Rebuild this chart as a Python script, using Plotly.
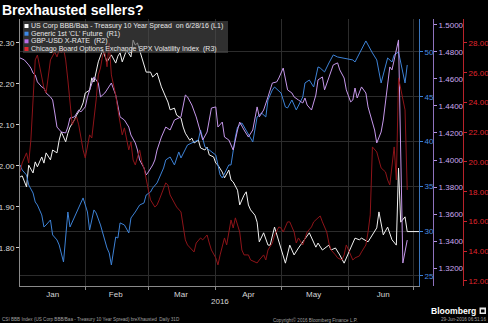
import plotly.graph_objects as go

# ---------------- data ----------------
# US Corp BBB/Baa - Treasury 10 Year Spread (L1)
spread_dates = [
    "2016-01-02", "2016-01-03", "2016-01-05", "2016-01-06", "2016-01-08", "2016-01-09", "2016-01-10", "2016-01-12",
    "2016-01-13", "2016-01-14", "2016-01-16", "2016-01-17", "2016-01-19", "2016-01-20", "2016-01-21", "2016-01-23",
    "2016-01-24", "2016-01-25", "2016-01-27", "2016-01-28", "2016-01-30", "2016-01-31",
    "2016-02-01", "2016-02-03", "2016-02-04", "2016-02-05", "2016-02-07", "2016-02-08", "2016-02-09", "2016-02-11",
    "2016-02-12", "2016-02-13", "2016-02-15", "2016-02-16", "2016-02-17", "2016-02-18", "2016-02-20", "2016-02-22",
    "2016-02-23", "2016-02-24", "2016-02-25", "2016-02-27", "2016-02-28", "2016-02-29",
    "2016-03-02", "2016-03-03", "2016-03-05", "2016-03-06", "2016-03-07", "2016-03-09", "2016-03-10", "2016-03-11",
    "2016-03-13", "2016-03-14", "2016-03-16", "2016-03-17", "2016-03-18", "2016-03-20", "2016-03-21", "2016-03-22",
    "2016-03-24", "2016-03-25", "2016-03-27", "2016-03-28", "2016-03-29", "2016-03-31",
    "2016-04-01", "2016-04-02", "2016-04-04", "2016-04-05", "2016-04-07", "2016-04-08", "2016-04-09", "2016-04-11",
    "2016-04-12", "2016-04-14", "2016-04-15", "2016-04-16", "2016-04-17", "2016-04-19", "2016-04-20", "2016-04-21",
    "2016-04-23", "2016-04-25", "2016-04-26", "2016-04-28", "2016-04-30",
    "2016-05-01", "2016-05-03", "2016-05-05", "2016-05-07", "2016-05-09", "2016-05-11", "2016-05-13", "2016-05-14",
    "2016-05-17", "2016-05-18", "2016-05-20", "2016-05-23", "2016-05-24", "2016-05-26", "2016-05-28", "2016-05-30",
    "2016-06-02", "2016-06-04", "2016-06-06", "2016-06-07", "2016-06-10", "2016-06-12", "2016-06-14", "2016-06-15",
    "2016-06-17", "2016-06-19", "2016-06-21", "2016-06-23", "2016-06-24", "2016-06-25", "2016-06-27", "2016-06-28",
]
spread_vals = [
    1.973, 1.976, 1.949, 2.002, 1.983, 2.010, 1.998, 2.022, 2.007, 2.032, 2.015, 2.039, 2.032, 2.063, 2.083, 2.059,
    2.080, 2.095, 2.112, 2.124, 2.141, 2.154,
    2.178, 2.185, 2.215, 2.205, 2.254, 2.271, 2.283, 2.254, 2.263, 2.271, 2.251, 2.268, 2.276, 2.254, 2.283, 2.266,
    2.307, 2.295, 2.300, 2.266, 2.251, 2.229,
    2.229, 2.217, 2.227, 2.210, 2.193, 2.168, 2.156, 2.137, 2.141, 2.124, 2.117, 2.095, 2.080, 2.063, 2.068, 2.056,
    2.063, 2.044, 2.039, 2.046, 2.027, 2.022,
    2.007, 2.002, 1.985, 1.971, 1.990, 1.966, 1.961, 1.941, 1.905, 1.929, 1.937, 1.905, 1.893, 1.880, 1.863, 1.815,
    1.837, 1.807, 1.807, 1.851, 1.815,
    1.800, 1.763, 1.807, 1.783, 1.800, 1.815, 1.827, 1.837, 1.802, 1.812, 1.795, 1.807, 1.795, 1.800, 1.783, 1.763,
    1.800, 1.824, 1.820, 1.824, 1.815, 1.832, 1.849, 1.888, 1.832, 1.851, 1.820, 1.807, 1.995, 1.863, 1.876, 1.840,
]

# Generic 1st 'CL' Future (R1)
oil_dates = [
    "2016-01-02", "2016-01-03", "2016-01-05", "2016-01-06", "2016-01-08", "2016-01-09", "2016-01-10", "2016-01-12",
    "2016-01-13", "2016-01-14", "2016-01-16", "2016-01-17", "2016-01-19", "2016-01-20", "2016-01-22", "2016-01-23",
    "2016-01-24", "2016-01-25", "2016-01-28", "2016-01-30", "2016-01-31",
    "2016-02-02", "2016-02-03", "2016-02-05", "2016-02-06", "2016-02-08", "2016-02-09", "2016-02-11", "2016-02-12",
    "2016-02-13", "2016-02-15", "2016-02-16", "2016-02-17", "2016-02-19", "2016-02-21", "2016-02-22", "2016-02-24",
    "2016-02-26", "2016-02-28", "2016-02-29",
    "2016-03-02", "2016-03-03", "2016-03-05", "2016-03-06", "2016-03-08", "2016-03-09", "2016-03-11", "2016-03-13",
    "2016-03-15", "2016-03-16", "2016-03-19", "2016-03-22", "2016-03-24", "2016-03-25", "2016-03-27", "2016-03-29",
    "2016-04-01", "2016-04-03", "2016-04-04", "2016-04-07", "2016-04-08", "2016-04-10", "2016-04-11", "2016-04-13",
    "2016-04-15", "2016-04-18", "2016-04-20", "2016-04-22", "2016-04-24", "2016-04-25", "2016-04-27", "2016-04-28",
    "2016-05-01", "2016-05-03", "2016-05-04", "2016-05-06", "2016-05-08", "2016-05-11", "2016-05-12", "2016-05-14",
    "2016-05-16", "2016-05-18", "2016-05-19", "2016-05-21", "2016-05-23", "2016-05-25", "2016-05-27", "2016-05-30",
    "2016-06-03", "2016-06-04", "2016-06-06", "2016-06-09", "2016-06-12", "2016-06-14", "2016-06-16", "2016-06-19",
    "2016-06-21", "2016-06-22", "2016-06-24", "2016-06-27", "2016-06-28",
]
oil_vals = [
    37.39, 36.83, 36.27, 35.16, 34.26, 33.26, 32.92, 31.81, 30.47, 30.69, 31.25, 29.58, 29.02, 28.46, 26.56, 29.91,
    32.14, 30.47, 32.14, 33.26, 33.71,
    32.14, 30.13, 32.37, 32.03, 30.69, 29.80, 28.12, 27.57, 26.23, 29.35, 29.24, 30.92, 30.69, 29.80, 31.47, 32.14,
    32.92, 33.15, 34.04,
    34.37, 34.82, 35.38, 35.94, 37.05, 37.95, 38.28, 37.39, 38.84, 38.17, 39.62, 39.96, 40.18, 41.29, 39.40, 39.06,
    38.50, 36.27, 35.94, 37.39, 37.39, 40.51, 41.63, 42.08, 41.29, 39.96, 42.75, 43.19, 42.75, 44.64, 45.76, 46.09,
    45.42, 43.86, 43.75, 44.64, 43.53, 44.98, 46.54, 46.87, 46.09, 48.33, 48.21, 47.77, 48.77, 49.67, 49.44, 49.33,
    49.11, 48.88, 49.89, 51.23, 49.89, 49.11, 46.54, 49.33, 48.88, 49.67, 50.00, 46.54, 48.55,
]

# GBP-USD X-RATE (R2)
gbp_dates = [
    "2016-01-02", "2016-01-04", "2016-01-06", "2016-01-07", "2016-01-08", "2016-01-09", "2016-01-10", "2016-01-12",
    "2016-01-13", "2016-01-14", "2016-01-16", "2016-01-17", "2016-01-18", "2016-01-19", "2016-01-21", "2016-01-23",
    "2016-01-24", "2016-01-25", "2016-01-27", "2016-01-29", "2016-01-30",
    "2016-02-01", "2016-02-02", "2016-02-04", "2016-02-05", "2016-02-07", "2016-02-08", "2016-02-10", "2016-02-11",
    "2016-02-13", "2016-02-15", "2016-02-16", "2016-02-17", "2016-02-19", "2016-02-21", "2016-02-22", "2016-02-24",
    "2016-02-25", "2016-02-26", "2016-02-28", "2016-02-29",
    "2016-03-01", "2016-03-03", "2016-03-04", "2016-03-05", "2016-03-07", "2016-03-09", "2016-03-11", "2016-03-13",
    "2016-03-16", "2016-03-18", "2016-03-19", "2016-03-21", "2016-03-23", "2016-03-25", "2016-03-26", "2016-03-28",
    "2016-03-30",
    "2016-04-01", "2016-04-02", "2016-04-04", "2016-04-05", "2016-04-07", "2016-04-09", "2016-04-11", "2016-04-12",
    "2016-04-14", "2016-04-16", "2016-04-18", "2016-04-20", "2016-04-21", "2016-04-23", "2016-04-25", "2016-04-27",
    "2016-04-29", "2016-04-30",
    "2016-05-02", "2016-05-03", "2016-05-04", "2016-05-06", "2016-05-07", "2016-05-09", "2016-05-11", "2016-05-12",
    "2016-05-13", "2016-05-15", "2016-05-17", "2016-05-18", "2016-05-20", "2016-05-21", "2016-05-23", "2016-05-25",
    "2016-05-27", "2016-05-28", "2016-05-30", "2016-05-31",
    "2016-06-02", "2016-06-03", "2016-06-04", "2016-06-05", "2016-06-07", "2016-06-09", "2016-06-10", "2016-06-12",
    "2016-06-13", "2016-06-14", "2016-06-16", "2016-06-17", "2016-06-19", "2016-06-20", "2016-06-21", "2016-06-22",
    "2016-06-24", "2016-06-26", "2016-06-27", "2016-06-28",
]
gbp_vals = [
    1.4756, 1.4741, 1.4704, 1.4681, 1.4644, 1.4630, 1.4578, 1.4541, 1.4533, 1.4496, 1.4467, 1.4444, 1.4348, 1.4244,
    1.4207, 1.4200, 1.4244, 1.4311, 1.4319, 1.4370, 1.4356,
    1.4393, 1.4467, 1.4570, 1.4615, 1.4570, 1.4467, 1.4496, 1.4519, 1.4570, 1.4481, 1.4407, 1.4319, 1.4296, 1.4244,
    1.4185, 1.4126, 1.4074, 1.4000, 1.3941, 1.3889,
    1.3911, 1.3963, 1.4000, 1.4074, 1.4170, 1.4244, 1.4222, 1.4296, 1.4319, 1.4481, 1.4467, 1.4407, 1.4319, 1.4200,
    1.4148, 1.4207, 1.4385,
    1.4393, 1.4244, 1.4281, 1.4170, 1.4148, 1.4074, 1.4222, 1.4281, 1.4222, 1.4170, 1.4222, 1.4393, 1.4319, 1.4370,
    1.4467, 1.4570, 1.4578, 1.4607,
    1.4681, 1.4593, 1.4519, 1.4496, 1.4467, 1.4444, 1.4422, 1.4459, 1.4407, 1.4370, 1.4481, 1.4593, 1.4615, 1.4519,
    1.4607, 1.4704, 1.4719, 1.4667, 1.4607, 1.4519,
    1.4430, 1.4444, 1.4533, 1.4459, 1.4541, 1.4496, 1.4393, 1.4274, 1.4222, 1.4126, 1.4207, 1.4296, 1.4541, 1.4689,
    1.4667, 1.4741, 1.4889, 1.3237, 1.3333, 1.3407,
]

# Chicago Board Options Exchange SPX Volatility Index (R3)
vix_dates = [
    "2016-01-02", "2016-01-03", "2016-01-05", "2016-01-06", "2016-01-07", "2016-01-08", "2016-01-09", "2016-01-10",
    "2016-01-11", "2016-01-12", "2016-01-13", "2016-01-14", "2016-01-15", "2016-01-16", "2016-01-18", "2016-01-19",
    "2016-01-20", "2016-01-21", "2016-01-22", "2016-01-23", "2016-01-24", "2016-01-25", "2016-01-26", "2016-01-27",
    "2016-01-28", "2016-01-29", "2016-01-30", "2016-01-31",
    "2016-02-01", "2016-02-02", "2016-02-03", "2016-02-04", "2016-02-05", "2016-02-06", "2016-02-07", "2016-02-08",
    "2016-02-09", "2016-02-10", "2016-02-11", "2016-02-12", "2016-02-13", "2016-02-14", "2016-02-15", "2016-02-16",
    "2016-02-17", "2016-02-18", "2016-02-19", "2016-02-21", "2016-02-22", "2016-02-23", "2016-02-24", "2016-02-26",
    "2016-02-27", "2016-02-28",
    "2016-03-01", "2016-03-02", "2016-03-04", "2016-03-05", "2016-03-06", "2016-03-08", "2016-03-09", "2016-03-10",
    "2016-03-11", "2016-03-13", "2016-03-14", "2016-03-16", "2016-03-17", "2016-03-18", "2016-03-19", "2016-03-21",
    "2016-03-22", "2016-03-23", "2016-03-25", "2016-03-26", "2016-03-28", "2016-03-29", "2016-03-30",
    "2016-04-01", "2016-04-02", "2016-04-03", "2016-04-05", "2016-04-06", "2016-04-08", "2016-04-09", "2016-04-10",
    "2016-04-12", "2016-04-13", "2016-04-14", "2016-04-16", "2016-04-17", "2016-04-19", "2016-04-20", "2016-04-21",
    "2016-04-23", "2016-04-24", "2016-04-25", "2016-04-27", "2016-04-28", "2016-04-30",
    "2016-05-01", "2016-05-02", "2016-05-04", "2016-05-05", "2016-05-07", "2016-05-08", "2016-05-09", "2016-05-11",
    "2016-05-12", "2016-05-13", "2016-05-15", "2016-05-16", "2016-05-18", "2016-05-19", "2016-05-20", "2016-05-22",
    "2016-05-23", "2016-05-24", "2016-05-26", "2016-05-27", "2016-05-29", "2016-05-30", "2016-05-31",
    "2016-06-02", "2016-06-03", "2016-06-04", "2016-06-06", "2016-06-07", "2016-06-09", "2016-06-10", "2016-06-11",
    "2016-06-12", "2016-06-14", "2016-06-15", "2016-06-16", "2016-06-18", "2016-06-19", "2016-06-20", "2016-06-22",
    "2016-06-23", "2016-06-24", "2016-06-27", "2016-06-28",
]
vix_vals = [
    19.33, 19.93, 20.61, 19.93, 21.48, 24.17, 26.86, 27.19, 26.39, 25.51, 24.97, 24.64, 25.65, 26.86, 27.39, 27.06,
    27.53, 27.33, 27.66, 26.86, 25.51, 23.83, 22.49, 22.82, 23.03, 22.49, 21.48, 20.81,
    20.27, 20.94, 21.82, 21.61, 22.82, 24.17, 25.85, 26.32, 27.19, 27.40, 26.40, 28.00, 25.85, 25.18, 24.50, 23.50,
    22.69, 21.82, 22.29, 20.81, 21.34, 20.13, 19.80, 20.81, 20.00, 19.60,
    18.12, 17.45, 16.97, 17.11, 17.45, 18.25, 18.59, 18.45, 17.78, 17.24, 16.97, 16.64, 15.56, 14.76, 14.42, 14.08,
    13.95, 14.55, 14.89, 14.76, 15.09, 14.55, 14.08,
    13.55, 13.08, 13.75, 14.89, 14.42, 16.10, 15.56, 16.24, 15.29, 14.08, 13.75, 13.75, 13.41, 13.28, 13.21, 13.41,
    13.75, 13.41, 14.08, 14.55, 15.09, 15.63,
    15.56, 15.29, 15.97, 15.97, 15.29, 14.55, 14.89, 14.42, 14.89, 15.29, 15.63, 15.97, 16.24, 16.37, 15.97, 15.29,
    14.55, 14.08, 13.75, 13.55, 13.41, 13.75, 14.42,
    13.75, 13.41, 13.55, 13.68, 13.95, 14.42, 15.29, 16.44, 21.01, 20.67, 20.13, 19.60, 19.33, 18.79, 18.45, 21.01,
    18.79, 25.65, 23.50, 18.12,
]

month_labels = ["Jan", "Feb", "Mar", "Apr", "May", "Jun"]
month_label_dates = ["2016-01-17", "2016-02-15", "2016-03-16", "2016-04-16", "2016-05-16", "2016-06-17"]
month_starts = ["2016-02-01", "2016-03-01", "2016-04-01", "2016-05-01", "2016-06-01", "2016-07-01"]
l1_ticks = [1.80, 1.90, 2.00, 2.10, 2.20, 2.30]
r1_ticks = [25, 30, 35, 40, 45, 50]
r2_ticks = [1.32, 1.34, 1.36, 1.38, 1.40, 1.42, 1.44, 1.46, 1.48, 1.50]
r3_ticks = [12, 14, 16, 18, 20, 22, 24, 26, 28]

legend_names = [
    "US Corp BBB/Baa - Treasury 10 Year Spread\u00a0\u00a0on 6/28/16 (L1)",
    "Generic 1st 'CL' Future\u00a0\u00a0(R1)",
    "GBP-USD X-RATE\u00a0\u00a0(R2)",
    "Chicago Board Options Exchange SPX Volatility Index\u00a0\u00a0(R3)",
]

for d, v in ((spread_dates, spread_vals), (oil_dates, oil_vals), (gbp_dates, gbp_vals), (vix_dates, vix_vals)):
    assert len(d) == len(v), (len(d), len(v))

# ---------------- layout helpers ----------------
W, H = 488, 323
ML, MR, MT, MB = 20, 0, 19, 37
PW, PH = W - ML - MR, H - MT - MB


def px(x):
    return (x - ML) / PW


def py(y):
    return (H - MB - y) / PH


FONT = "Liberation Sans, Arial, sans-serif"
C_WHITE = "#f2f2f2"
C_BLUE = "#3d82d6"
C_PURPLE = "#c597ea"
C_RED = "#8e1419"
GRID = "#2c2c2c"
x_range = ["2016-01-02", "2016-07-03 10:00"]

fig = go.Figure()
fig.add_trace(go.Scatter(x=vix_dates, y=vix_vals, yaxis="y4", mode="lines",
                         line=dict(color=C_RED, width=1), name=legend_names[3]))
fig.add_trace(go.Scatter(x=oil_dates, y=oil_vals, yaxis="y2", mode="lines",
                         line=dict(color=C_BLUE, width=1), name=legend_names[1]))
fig.add_trace(go.Scatter(x=gbp_dates, y=gbp_vals, yaxis="y3", mode="lines",
                         line=dict(color=C_PURPLE, width=1), name=legend_names[2]))
fig.add_trace(go.Scatter(x=spread_dates, y=spread_vals, yaxis="y", mode="lines",
                         line=dict(color=C_WHITE, width=1), name=legend_names[0]))
# last-value marker line of the spread, running to the right edge
fig.add_trace(go.Scatter(x=[spread_dates[-1], x_range[1]], y=[spread_vals[-1], spread_vals[-1]],
                         yaxis="y", mode="lines", line=dict(color=C_WHITE, width=1), hoverinfo="skip"))

fig.update_layout(
    width=W, height=H,
    margin=dict(l=ML, r=MR, t=MT, b=MB, pad=0),
    paper_bgcolor="#000000", plot_bgcolor="#000000",
    showlegend=False,
    font=dict(family=FONT, color="#d8d8d8", size=8),
    xaxis=dict(
        domain=[0, px(419)], range=x_range, type="date",
        tickmode="array", tickvals=month_label_dates, ticktext=month_labels,
        ticks="", showgrid=False, zeroline=False,
        showline=True, linecolor="#8a8a8a", linewidth=1,
        tickfont=dict(size=8, color="#d6d6d6"),
        minor=dict(tickmode="array", tickvals=month_starts, ticks="outside", ticklen=3,
                   tickcolor="#8a8a8a", showgrid=True, gridcolor=GRID, gridwidth=1),
        automargin=False, fixedrange=True,
    ),
    yaxis=dict(
        range=[1.7073, 2.3585], tickmode="array", tickvals=l1_ticks, tickformat=".2f",
        ticks="outside", ticklen=3, tickcolor="#cfcfcf",
        tickfont=dict(size=8, color="#d8d8d8"),
        showline=True, linecolor="#8a8a8a", linewidth=1,
        showgrid=False, zeroline=False, automargin=False,
    ),
    yaxis2=dict(
        overlaying="y", side="right", anchor="x",
        range=[23.88, 53.68], tickmode="array", tickvals=r1_ticks,
        ticks="outside", ticklen=3, tickcolor=C_BLUE,
        tickfont=dict(size=8, color="#4a8ee0"),
        showline=True, linecolor="#3a74bb", linewidth=1,
        showgrid=True, gridcolor=GRID, gridwidth=1, zeroline=False, automargin=False,
    ),
    yaxis3=dict(
        overlaying="y", side="right", anchor="free", position=px(433),
        range=[1.3067, 1.5044], tickmode="array", tickvals=r2_ticks, tickformat=".4f",
        ticks="outside", ticklen=3, tickcolor="#b491e0",
        tickfont=dict(size=8, color="#c8a8ee"),
        showline=True, linecolor="#8e72bd", linewidth=1,
        showgrid=False, zeroline=False, automargin=False,
    ),
    yaxis4=dict(
        overlaying="y", side="right", anchor="free", position=px(463),
        range=[11.66, 29.61], tickmode="array", tickvals=r3_ticks, tickformat=".2f",
        ticks="outside", ticklen=3, tickcolor="#d0232b",
        tickfont=dict(size=8, color="#e0262e"),
        showline=True, linecolor="#b8222a", linewidth=1,
        showgrid=False, zeroline=False, automargin=False,
    ),
)

# legend box
shapes = [dict(type="rect", xref="paper", yref="paper", x0=px(23), x1=px(228), y0=py(53), y1=py(21),
               fillcolor="rgba(78,78,78,0.62)", line=dict(width=0), layer="above")]
annotations = []
legend_colors = ["#ffffff", "#3d8ae8", "#b86ee8", "#e0262e"]
legend_y = [26, 33.7, 41.3, 49]
for name, col, yy in zip(legend_names, legend_colors, legend_y):
    shapes.append(dict(type="rect", xref="paper", yref="paper", x0=px(24.5), x1=px(28.5),
                       y0=py(yy + 2), y1=py(yy - 2), fillcolor=col, line=dict(width=0), layer="above"))
    annotations.append(dict(text=name, xref="paper", yref="paper", x=px(29.5), y=py(yy),
                            xanchor="left", yanchor="middle", showarrow=False,
                            font=dict(size=7, color="#e8e8e8", family=FONT), borderpad=0))

# title
annotations.append(dict(text="<b>Brexhausted sellers?</b>", xref="paper", yref="paper",
                        x=px(1), y=py(9.5), xanchor="left", yanchor="middle", showarrow=False,
                        font=dict(size=14, color="#ffffff", family=FONT), borderpad=0))
# year label
annotations.append(dict(text="2016", xref="paper", yref="paper", x=px(220), y=py(301),
                        xanchor="center", yanchor="middle", showarrow=False,
                        font=dict(size=8, color="#d6d6d6", family=FONT), borderpad=0))
# footer
annotations.append(dict(text="CSI BBB Index (US Corp BBB/Baa - Treasury 10 Year Spread) breXhausted\u00a0\u00a0Daily 31D",
                        xref="paper", yref="paper", x=px(1), y=py(319.5), xanchor="left", yanchor="middle",
                        showarrow=False, font=dict(size=4.6, color="#a0a0a0", family=FONT), borderpad=0))
annotations.append(dict(text="Copyright\u00a9 2016 Bloomberg Finance L.P.", xref="paper", yref="paper",
                        x=px(315), y=py(319.5), xanchor="center", yanchor="middle", showarrow=False,
                        font=dict(size=4.6, color="#a0a0a0", family=FONT), borderpad=0))
annotations.append(dict(text="29-Jun-2016 06:51:16", xref="paper", yref="paper",
                        x=px(487), y=py(319.5), xanchor="right", yanchor="middle", showarrow=False,
                        font=dict(size=4.6, color="#a0a0a0", family=FONT), borderpad=0))
annotations.append(dict(text="<b>Bloomberg</b>", xref="paper", yref="paper",
                        x=px(477), y=py(311), xanchor="right", yanchor="middle", showarrow=False,
                        font=dict(size=8.6, color="#ffffff", family=FONT), borderpad=0))
shapes.append(dict(type="rect", xref="paper", yref="paper", x0=px(479.5), x1=px(486),
                   y0=py(314), y1=py(307.5), fillcolor="#e8e8e8", line=dict(width=0), layer="above"))
shapes.append(dict(type="rect", xref="paper", yref="paper", x0=px(481), x1=px(484.5),
                   y0=py(312.5), y1=py(309.5), fillcolor="#000000", line=dict(width=0), layer="above"))

fig.update_layout(shapes=shapes, annotations=annotations)

fig.write_html("out.html", config={"displayModeBar": False})
